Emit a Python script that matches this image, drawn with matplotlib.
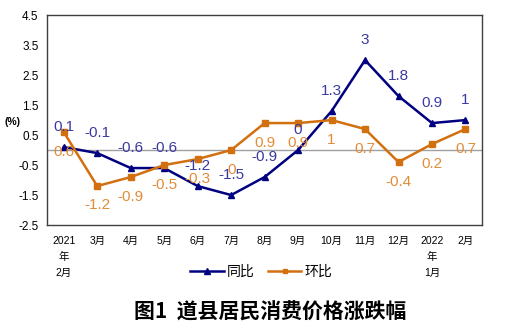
import matplotlib
matplotlib.use('Agg')
import matplotlib.pyplot as plt

plt.rcParams['font.family'] = ['Liberation Sans', 'Noto Sans CJK SC', 'DejaVu Sans']
plt.rcParams['axes.unicode_minus'] = False

# 月份
months = ['2021\n年\n2月', '3月', '4月', '5月', '6月', '7月', '8月', '9月',
          '10月', '11月', '12月', '2022\n年\n1月', '2月']
# 同比
yoy = [0.1, -0.1, -0.6, -0.6, -1.2, -1.5, -0.9, 0, 1.3, 3, 1.8, 0.9, 1]
# 环比
mom = [0.6, -1.2, -0.9, -0.5, -0.3, 0, 0.9, 0.9, 1, 0.7, -0.4, 0.2, 0.7]
yticks = [4.5, 3.5, 2.5, 1.5, 0.5, -0.5, -1.5, -2.5]

navy = '#000080'
orange = '#d2700f'

fig = plt.figure(figsize=(5.15, 3.29), dpi=100)
ax = fig.add_axes([0.0913, 0.316, 0.845, 0.638])

x = list(range(len(months)))
ax.axhline(0, color='#a0a0a0', lw=1, zorder=1)
ax.plot(x, yoy, color=navy, lw=1.8, marker='^', markersize=5, label='同比', zorder=3)
ax.plot(x, mom, color=orange, lw=1.8, marker='s', markersize=4, label='环比', zorder=3)

for i, v in enumerate(yoy):
    ax.annotate(f'{v:g}', (i, v), xytext=(0, 14.5), textcoords='offset points',
                ha='center', va='center', fontsize=11, color='#3a3aa0')
for i, v in enumerate(mom):
    ax.annotate(f'{v:g}', (i, v), xytext=(0, -14), textcoords='offset points',
                ha='center', va='center', fontsize=11, color='#e28c38')

ax.set_xlim(-0.5, len(months) - 0.5)
ax.set_ylim(-2.5, 4.5)
ax.set_yticks(yticks)
ax.set_yticklabels([f'{t:g}' for t in yticks], fontsize=8.5)
ax.set_xticks(x)
ax.set_xticklabels(months, fontsize=7.5, va='top', linespacing=1.75)
ax.tick_params(axis='x', length=0, pad=8)
ax.tick_params(axis='y', length=0, pad=6)
for s in ax.spines.values():
    s.set_color('#404040')
    s.set_linewidth(1)

fig.text(0.024, 0.63, '(%)', fontsize=7.5, fontweight='bold', ha='center', va='center')

fig.legend(loc='center', bbox_to_anchor=(0.507, 0.173), ncol=2, frameon=False,
           fontsize=10, handlelength=2.4, handletextpad=0.2, columnspacing=1.0,
           markerscale=0.75)

fig.text(0.525, 0.052, '图1  道县居民消费价格涨跌幅', fontsize=15, fontweight='bold',
         ha='center', va='center', family=['Noto Sans CJK SC', 'DejaVu Sans'])

fig.savefig('out.png', dpi=100)
